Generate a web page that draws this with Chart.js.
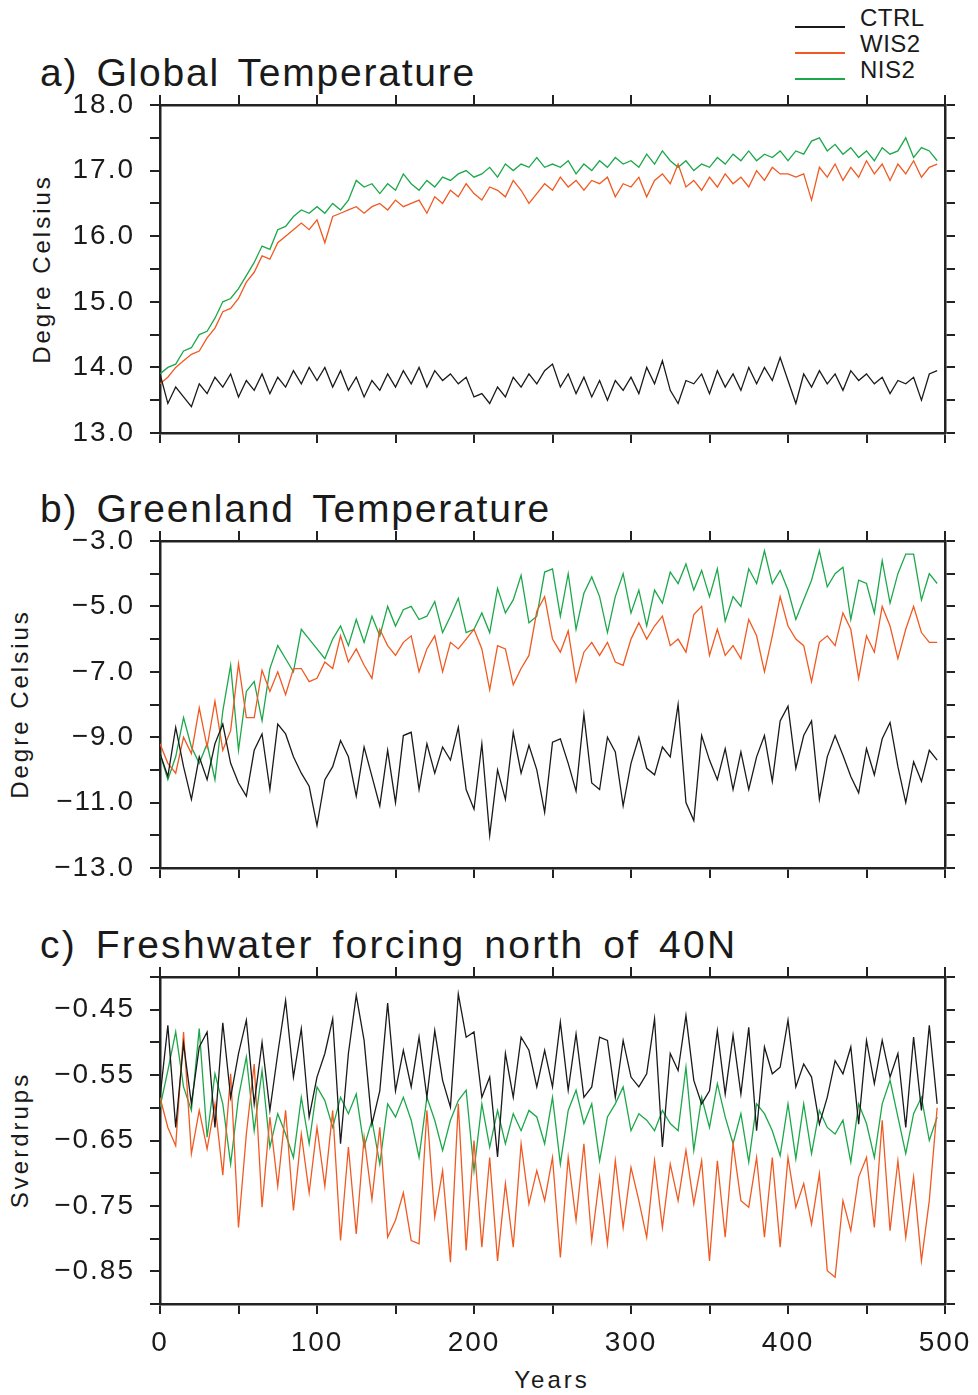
<!DOCTYPE html>
<html>
<head>
<meta charset="utf-8">
<script src="https://cdn.jsdelivr.net/npm/chart.js@4.4.1/dist/chart.umd.min.js"></script>
<style>
  html, body { margin: 0; padding: 0; background: #fff; }
  #page { position: relative; width: 978px; height: 1395px; overflow: hidden; font-family: "Liberation Sans", Arial, sans-serif; color: #1a1a1a; }
  canvas { position: absolute; left: 0; }
  .title { position: absolute; left: 40px; font-size: 39px; line-height: 39px; letter-spacing: 1.8px; word-spacing: 5.5px; white-space: nowrap; }
  .ytitle { position: absolute; font-size: 24px; line-height: 24px; letter-spacing: 3px; white-space: nowrap; transform: translate(-50%, -50%) rotate(-90deg); }
  .leg-line { position: absolute; left: 795px; width: 50px; height: 2px; }
  .leg-text { position: absolute; left: 860px; font-size: 24px; line-height: 24px; letter-spacing: 0.5px; }
  #xtitle { position: absolute; left: 552px; top: 1368px; font-size: 24px; line-height: 24px; letter-spacing: 3px; transform: translateX(-50%); }
</style>
</head>
<body>
<div id="page">
  <div class="leg-line" style="top:26px;background:#1a1a1a"></div>
  <div class="leg-text" style="top:6px">CTRL</div>
  <div class="leg-line" style="top:52px;background:#f05a22"></div>
  <div class="leg-text" style="top:32px">WIS2</div>
  <div class="leg-line" style="top:78px;background:#1ca84a"></div>
  <div class="leg-text" style="top:58px">NIS2</div>

  <div class="title" style="top:53px">a) Global Temperature</div>
  <div class="title" style="top:489px">b) Greenland Temperature</div>
  <div class="title" style="top:925px;letter-spacing:2.3px">c) Freshwater forcing north of 40N</div>

  <div class="ytitle" style="left:42px;top:269px">Degre Celsius</div>
  <div class="ytitle" style="left:20px;top:704px">Degre Celsius</div>
  <div class="ytitle" style="left:20px;top:1140px">Sverdrups</div>
  <div id="xtitle">Years</div>

  <canvas id="chart-a" width="978" height="368" style="top:85px"></canvas>
  <canvas id="chart-b" width="978" height="367" style="top:521px"></canvas>
  <canvas id="chart-c" width="978" height="438" style="top:957px"></canvas>
</div>

<script>
// ── Data (every 5 model years) ──────────────────────────────────
const years = [
  0, 5, 10, 15, 20, 25, 30, 35, 40, 45, 50, 55, 60, 65, 70, 75, 80, 85, 90, 95,
  100, 105, 110, 115, 120, 125, 130, 135, 140, 145, 150, 155, 160, 165, 170, 175, 180, 185, 190, 195,
  200, 205, 210, 215, 220, 225, 230, 235, 240, 245, 250, 255, 260, 265, 270, 275, 280, 285, 290, 295,
  300, 305, 310, 315, 320, 325, 330, 335, 340, 345, 350, 355, 360, 365, 370, 375, 380, 385, 390, 395,
  400, 405, 410, 415, 420, 425, 430, 435, 440, 445, 450, 455, 460, 465, 470, 475, 480, 485, 490, 495,
];
const seriesNames = ["CTRL", "WIS2", "NIS2"];

// a) Global temperature (°C)
const globalCtrl = [
  13.9, 13.45, 13.7, 13.55, 13.4, 13.75, 13.6, 13.85, 13.7, 13.9,
  13.55, 13.8, 13.65, 13.9, 13.6, 13.85, 13.7, 13.95, 13.75, 14.0,
  13.8, 14.0, 13.7, 13.95, 13.65, 13.85, 13.55, 13.8, 13.65, 13.9,
  13.7, 13.95, 13.75, 14.0, 13.7, 13.95, 13.8, 13.9, 13.75, 13.85,
  13.55, 13.6, 13.45, 13.7, 13.55, 13.85, 13.7, 13.9, 13.75, 13.95,
  14.05, 13.7, 13.9, 13.6, 13.85, 13.55, 13.8, 13.5, 13.8, 13.65,
  13.85, 13.6, 14.0, 13.75, 14.1, 13.65, 13.45, 13.8, 13.75, 13.9,
  13.6, 13.95, 13.7, 13.9, 13.65, 14.0, 13.75, 14.0, 13.8, 14.15,
  13.8, 13.45, 13.9, 13.7, 13.95, 13.75, 13.9, 13.65, 13.95, 13.8,
  13.9, 13.75, 13.85, 13.6, 13.8, 13.75, 13.85, 13.5, 13.9, 13.95,
];
const globalWis2 = [
  13.75, 13.85, 14.0, 14.1, 14.2, 14.25, 14.45, 14.6, 14.85, 14.9,
  15.05, 15.3, 15.45, 15.7, 15.65, 15.9, 16.0, 16.1, 16.2, 16.1,
  16.25, 15.9, 16.3, 16.35, 16.4, 16.45, 16.35, 16.45, 16.5, 16.4,
  16.55, 16.45, 16.5, 16.55, 16.35, 16.6, 16.5, 16.7, 16.6, 16.8,
  16.65, 16.55, 16.75, 16.7, 16.6, 16.85, 16.7, 16.5, 16.65, 16.8,
  16.7, 16.9, 16.75, 16.85, 16.7, 16.85, 16.8, 16.9, 16.6, 16.8,
  16.75, 16.9, 16.6, 16.85, 16.95, 16.8, 17.1, 16.75, 16.85, 16.7,
  16.9, 16.75, 16.95, 16.8, 16.9, 16.75, 17.0, 16.85, 17.05, 16.95,
  16.95, 16.9, 16.95, 16.55, 17.05, 16.9, 17.1, 16.85, 17.05, 16.9,
  17.15, 16.95, 17.1, 16.85, 17.1, 16.95, 17.15, 16.9, 17.05, 17.1,
];
const globalNis2 = [
  13.9, 14.0, 14.05, 14.25, 14.3, 14.5, 14.55, 14.75, 15.0, 15.05,
  15.2, 15.4, 15.6, 15.85, 15.8, 16.1, 16.15, 16.3, 16.4, 16.35,
  16.45, 16.35, 16.5, 16.4, 16.55, 16.85, 16.75, 16.8, 16.65, 16.8,
  16.7, 16.95, 16.8, 16.7, 16.85, 16.75, 16.9, 16.85, 16.95, 17.0,
  16.9, 16.95, 17.05, 16.9, 17.1, 17.0, 17.1, 17.05, 17.2, 17.05,
  17.1, 17.05, 17.15, 16.95, 17.1, 17.0, 17.15, 17.05, 17.2, 17.1,
  17.15, 17.05, 17.25, 17.1, 17.3, 17.15, 17.05, 17.15, 17.0, 17.1,
  17.05, 17.2, 17.1, 17.25, 17.15, 17.3, 17.15, 17.25, 17.2, 17.3,
  17.15, 17.3, 17.25, 17.45, 17.5, 17.3, 17.4, 17.25, 17.35, 17.2,
  17.3, 17.15, 17.35, 17.25, 17.3, 17.5, 17.2, 17.35, 17.3, 17.15,
];

// b) Greenland temperature (°C)
const greenCtrl = [
  -9.5, -10.2, -8.7, -9.9, -10.9, -9.6, -10.3, -9.2, -8.6, -9.8,
  -10.4, -10.8, -9.4, -8.9, -10.6, -8.6, -8.9, -9.6, -10.1, -10.5,
  -11.7, -10.3, -9.9, -9.1, -9.6, -10.8, -9.3, -10.2, -11.1, -9.4,
  -11.0, -8.95, -8.85, -10.6, -9.2, -10.1, -9.3, -9.7, -8.7, -10.6,
  -11.2, -9.2, -12.0, -10.0, -10.9, -8.85, -10.1, -9.25, -10.0, -11.3,
  -9.15, -9.05, -9.8, -10.65, -8.3, -10.4, -10.6, -9.0, -9.45, -11.1,
  -9.8, -9.0, -9.95, -10.15, -9.3, -9.6, -8.0, -11.0, -11.55, -8.95,
  -9.7, -10.3, -9.35, -10.6, -9.45, -10.6, -9.6, -8.95, -10.35, -8.5,
  -8.05, -9.95, -8.95, -8.5, -10.9, -9.6, -8.95, -9.55, -10.2, -10.7,
  -9.35, -10.15, -9.05, -8.55, -9.9, -11.0, -9.75, -10.35, -9.4, -9.7,
];
const greenWis2 = [
  -9.2, -9.8, -10.1, -9.0, -9.5, -8.1, -9.3, -7.9, -9.4, -8.8,
  -6.75, -8.4, -8.4, -6.95, -7.6, -7.0, -7.7, -6.9, -6.9, -7.3,
  -7.2, -6.7, -6.9, -5.9, -6.7, -6.3, -6.8, -7.2, -5.7, -6.2,
  -6.5, -6.1, -5.9, -7.0, -6.3, -5.9, -7.0, -6.1, -6.3, -6.0,
  -5.7, -6.3, -7.55, -6.2, -6.3, -7.4, -6.9, -6.5, -5.15, -4.7,
  -6.0, -6.4, -5.75, -7.3, -6.4, -6.1, -6.5, -6.1, -6.7, -6.8,
  -6.0, -5.5, -6.0, -5.6, -5.3, -6.2, -6.0, -6.4, -5.25, -5.0,
  -6.5, -5.7, -6.5, -6.2, -6.6, -5.4, -5.9, -7.0, -5.9, -4.7,
  -5.6, -6.0, -6.2, -7.3, -6.1, -5.9, -6.2, -5.2, -5.7, -7.2,
  -5.9, -6.4, -5.0, -5.6, -6.6, -5.7, -5.0, -5.8, -6.1, -6.1,
];
const greenNis2 = [
  -9.5, -10.3, -9.6, -8.4, -9.3, -9.8, -9.2, -10.3, -8.2, -6.8,
  -9.4, -7.6, -7.3, -8.5, -6.9, -6.2, -6.6, -7.0, -5.7, -6.0,
  -6.3, -6.6, -6.0, -5.6, -6.2, -5.4, -6.1, -5.3, -5.9, -5.0,
  -5.6, -5.1, -5.0, -5.4, -5.3, -4.85, -5.8, -5.3, -4.75, -5.8,
  -5.7, -5.2, -5.8, -4.45, -5.2, -4.8, -4.05, -5.5, -5.3, -3.95,
  -3.85, -5.3, -4.0, -5.7, -4.6, -4.1, -4.7, -5.8, -4.7, -4.0,
  -5.2, -4.5, -5.6, -4.5, -4.9, -3.95, -4.3, -3.7, -4.5, -3.9,
  -4.7, -3.85, -5.45, -4.7, -5.0, -3.85, -4.3, -3.3, -4.3, -3.9,
  -4.5, -5.4, -4.8, -4.2, -3.3, -4.4, -4.0, -3.8, -5.4, -4.2,
  -4.3, -5.2, -3.6, -4.9, -4.0, -3.4, -3.4, -4.8, -4.0, -4.3,
];

// c) Freshwater forcing north of 40N (Sv)
const fwCtrl = [
  -0.584, -0.474, -0.63, -0.502, -0.594, -0.507, -0.484, -0.63, -0.47, -0.584,
  -0.517, -0.466, -0.594, -0.5, -0.604, -0.517, -0.436, -0.553, -0.479, -0.614,
  -0.553, -0.517, -0.464, -0.655, -0.517, -0.428, -0.497, -0.625, -0.574, -0.44,
  -0.574, -0.512, -0.568, -0.492, -0.584, -0.482, -0.558, -0.599, -0.426, -0.492,
  -0.484, -0.584, -0.553, -0.675, -0.517, -0.584, -0.492, -0.512, -0.568, -0.512,
  -0.568, -0.469, -0.573, -0.487, -0.584, -0.568, -0.492, -0.497, -0.584, -0.497,
  -0.553, -0.568, -0.548, -0.464, -0.66, -0.517, -0.543, -0.459, -0.558, -0.594,
  -0.574, -0.482, -0.579, -0.489, -0.579, -0.477, -0.635, -0.507, -0.548, -0.538,
  -0.466, -0.568, -0.533, -0.553, -0.625, -0.584, -0.528, -0.548, -0.507, -0.625,
  -0.497, -0.563, -0.497, -0.553, -0.517, -0.63, -0.492, -0.604, -0.474, -0.594,
];
const fwWis2 = [
  -0.584, -0.63, -0.658, -0.484, -0.67, -0.604, -0.663, -0.594, -0.703, -0.548,
  -0.783, -0.64, -0.533, -0.752, -0.614, -0.72, -0.604, -0.757, -0.64, -0.73,
  -0.63, -0.72, -0.604, -0.803, -0.66, -0.793, -0.645, -0.74, -0.63, -0.798,
  -0.772, -0.73, -0.803, -0.808, -0.604, -0.767, -0.696, -0.836, -0.594, -0.818,
  -0.65, -0.813, -0.676, -0.834, -0.716, -0.813, -0.655, -0.747, -0.696, -0.742,
  -0.676, -0.829, -0.676, -0.772, -0.655, -0.803, -0.706, -0.808, -0.681, -0.783,
  -0.691, -0.742, -0.798, -0.681, -0.783, -0.686, -0.742, -0.665, -0.747, -0.681,
  -0.834, -0.681, -0.798, -0.655, -0.742, -0.752, -0.676, -0.798, -0.676, -0.813,
  -0.676, -0.752, -0.716, -0.778, -0.701, -0.849, -0.859, -0.742, -0.788, -0.706,
  -0.676, -0.783, -0.619, -0.788, -0.681, -0.798, -0.706, -0.834, -0.742, -0.6,
];
const fwNis2 = [
  -0.599, -0.543, -0.484, -0.568, -0.604, -0.479, -0.645, -0.548, -0.594, -0.686,
  -0.584, -0.522, -0.635, -0.543, -0.66, -0.609, -0.64, -0.676, -0.584, -0.655,
  -0.568, -0.589, -0.63, -0.584, -0.609, -0.579, -0.66, -0.619, -0.686, -0.594,
  -0.614, -0.584, -0.619, -0.676, -0.584, -0.619, -0.665, -0.619, -0.589, -0.573,
  -0.696, -0.594, -0.66, -0.604, -0.655, -0.609, -0.635, -0.604, -0.614, -0.655,
  -0.584, -0.686, -0.604, -0.573, -0.624, -0.594, -0.681, -0.614, -0.594, -0.568,
  -0.635, -0.609, -0.619, -0.635, -0.604, -0.624, -0.635, -0.538, -0.665, -0.584,
  -0.63, -0.563, -0.614, -0.655, -0.609, -0.683, -0.594, -0.609, -0.635, -0.673,
  -0.594, -0.678, -0.594, -0.67, -0.604, -0.63, -0.64, -0.619, -0.683, -0.594,
  -0.624, -0.676, -0.594, -0.558, -0.614, -0.67, -0.609, -0.584, -0.65, -0.614,
];

// ── Styling ─────────────────────────────────────────────────────
const COLORS = ["#1a1a1a", "#f05a22", "#1ca84a"];
const AXIS = "#222";
const TICK_FONT = { family: '"Liberation Sans", Arial, sans-serif', size: 28 };
const minus = (s) => s.replace("-", "\u2212");
const isWhole = (v) => Math.abs(v - Math.round(v)) < 1e-6;

// only some of the tick marks carry a number
const labelA = (v) => (isWhole(v) ? v.toFixed(1) : "");
const labelB = (v) => (isWhole(v) && Math.abs(Math.round(v)) % 2 === 1 ? minus(v.toFixed(1)) : "");
const labelC = (v) => (Math.abs(Math.round(v * 100)) % 10 === 5 ? minus(v.toFixed(2)) : "");

// ── One panel = one chart, framed by four tick-only axes ────────
function makePanel(id, yMin, yMax, yStep, yLabel, values, bottomSize) {
  const frame = { display: true, color: AXIS, width: 2.5 };
  const grid = { drawOnChartArea: false, drawTicks: true, tickLength: 10, lineWidth: 2, color: AXIS };
  const fix = (prop, val) => (s) => {
    s[prop] = val;
    s.paddingLeft = s.paddingRight = s.paddingTop = s.paddingBottom = 0;
  };

  return new Chart(document.getElementById(id), {
    type: "line",
    data: {
      datasets: values.map((vals, k) => ({
        label: seriesNames[k],
        data: years.map((x, i) => ({ x, y: vals[i] })),
        borderColor: COLORS[k],
        borderWidth: 1.3,
        pointRadius: 0,
        tension: 0,
        fill: false,
      })),
    },
    options: {
      responsive: false,
      animation: false,
      events: [],
      layout: { padding: 0 },
      plugins: { legend: { display: false }, tooltip: { enabled: false } },
      scales: {
        x: {
          type: "linear", position: "bottom", min: 0, max: 500,
          border: frame, grid,
          ticks: {
            stepSize: 50, autoSkip: false, maxRotation: 0, display: bottomSize > 20,
            padding: 12, color: "#1a1a1a", font: TICK_FONT,
            callback: (v) => (v % 100 === 0 ? String(v) : ""),
          },
          afterFit: fix("height", bottomSize),
        },
        xTop: {
          type: "linear", position: "top", min: 0, max: 500,
          border: frame, grid,
          ticks: { stepSize: 50, autoSkip: false, display: false },
          afterFit: fix("height", 20),
        },
        y: {
          type: "linear", position: "left", min: yMin, max: yMax,
          border: frame, grid,
          ticks: { stepSize: yStep, autoSkip: false, padding: 15, color: "#1a1a1a", font: TICK_FONT, callback: yLabel },
          afterFit: fix("width", 160),
        },
        yRight: {
          type: "linear", position: "right", min: yMin, max: yMax,
          border: frame, grid,
          ticks: { stepSize: yStep, autoSkip: false, display: false },
          afterFit: fix("width", 33),
        },
      },
    },
    plugins: [{ id: "spacing", beforeDraw: (c) => { c.ctx.letterSpacing = "2px"; } }],
  });
}

makePanel("chart-a", 13, 18, 0.5, labelA, [globalCtrl, globalWis2, globalNis2], 20);
makePanel("chart-b", -13, -3, 1, labelB, [greenCtrl, greenWis2, greenNis2], 20);
makePanel("chart-c", -0.9, -0.4, 0.05, labelC, [fwCtrl, fwWis2, fwNis2], 91);
</script>
</body>
</html>
